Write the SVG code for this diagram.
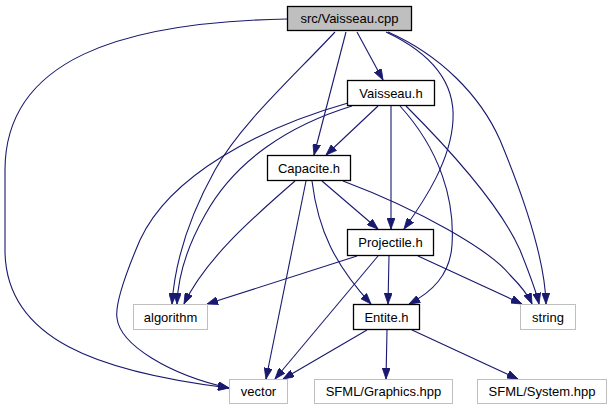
<svg xmlns="http://www.w3.org/2000/svg" width="613" height="411" viewBox="0 0 613 411">
<style>
.n rect{fill:#fff;stroke:#000;stroke-width:1.3}
.x rect{fill:#fff;stroke:#bfbfbf;stroke-width:1}
#src rect{fill:#bfbfbf}
text{font-family:"Liberation Sans",Arial,sans-serif;font-size:13px;fill:#000;text-anchor:middle}
#edges path{fill:none;stroke:#191970;stroke-width:1.1;marker-end:url(#ah)}
</style>
<defs>
<marker id="ah" markerUnits="userSpaceOnUse" markerWidth="11" markerHeight="8" viewBox="0 0 11 8" refX="11" refY="4" orient="auto">
<path d="M0,0 L11,4 L0,8 z" fill="#191970" stroke="#191970" stroke-width="0.8"/>
</marker>
</defs>
<rect width="613" height="411" fill="#fff"/>
<g id="edges">
<!-- src -->
<path d="M287,19 C120,22 5,60 5,170 L5,250 C5,340 100,372 229,388"/>
<path d="M335,32 C290,80 240,125 215,170 C190,215 175,260 172,304"/>
<path d="M346,32 L314,155"/>
<path d="M357,32 L383,80"/>
<path d="M386,32 C435,55 455,85 453,120 C451,160 425,200 404,229"/>
<path d="M388,32 C440,55 480,95 500,140 C525,200 545,260 546,304"/>
<!-- Vaisseau.h -->
<path d="M378,106 L326,155"/>
<path d="M352,106 C290,125 235,160 205,215 C188,245 178,275 177,304"/>
<path d="M348,103 C260,128 170,175 140,240 C125,275 115,305 117,318 C120,345 170,375 229,388"/>
<path d="M391,106 L391,229"/>
<path d="M400,106 C440,150 455,200 452,245 C450,275 432,292 409,304"/>
<path d="M406,106 C450,150 500,205 520,250 C530,275 536,290 539,304"/>
<!-- Capacite.h -->
<path d="M322,181 L378,229"/>
<path d="M295,181 C250,220 205,260 184,304"/>
<path d="M306,181 L266,379"/>
<path d="M312,181 C318,230 335,265 371,304"/>
<path d="M343,181 C420,210 490,250 510,275 C520,285 528,295 532,304"/>
<!-- Projectile.h -->
<path d="M357,256 L207,304"/>
<path d="M378,256 L275,379"/>
<path d="M389,256 L388,304"/>
<path d="M418,256 L522,304"/>
<!-- Entite.h -->
<path d="M367,330 L283,379"/>
<path d="M387,330 L386,379"/>
<path d="M412,330 L518,379"/>
</g>
<g id="src" class="n"><rect x="287.5" y="6.5" width="124" height="24"/><text x="349.5" y="23">src/Vaisseau.cpp</text></g>
<g id="vaisseau_h" class="n"><rect x="347.5" y="80.5" width="87" height="25"/><text x="391" y="97.5">Vaisseau.h</text></g>
<g id="capacite_h" class="n"><rect x="267.5" y="155.5" width="83" height="25"/><text x="309" y="172.5">Capacite.h</text></g>
<g id="projectile_h" class="n"><rect x="347.5" y="229.5" width="86" height="26"/><text x="390.5" y="247">Projectile.h</text></g>
<g id="entite_h" class="n"><rect x="353.5" y="304.5" width="66" height="25"/><text x="386.5" y="321.5">Entite.h</text></g>
<g id="algorithm" class="x"><rect x="133.5" y="304.5" width="74" height="25"/><text x="170.5" y="321.5">algorithm</text></g>
<g id="string" class="x"><rect x="520.5" y="304.5" width="55" height="25"/><text x="548" y="321.5">string</text></g>
<g id="vector" class="x"><rect x="229.5" y="379.5" width="58" height="24"/><text x="258.5" y="396">vector</text></g>
<g id="sfml_graphics" class="x"><rect x="314.5" y="379.5" width="138" height="24"/><text x="383.5" y="396">SFML/Graphics.hpp</text></g>
<g id="sfml_system" class="x"><rect x="477.5" y="379.5" width="129" height="24"/><text x="542" y="396">SFML/System.hpp</text></g>
</svg>
